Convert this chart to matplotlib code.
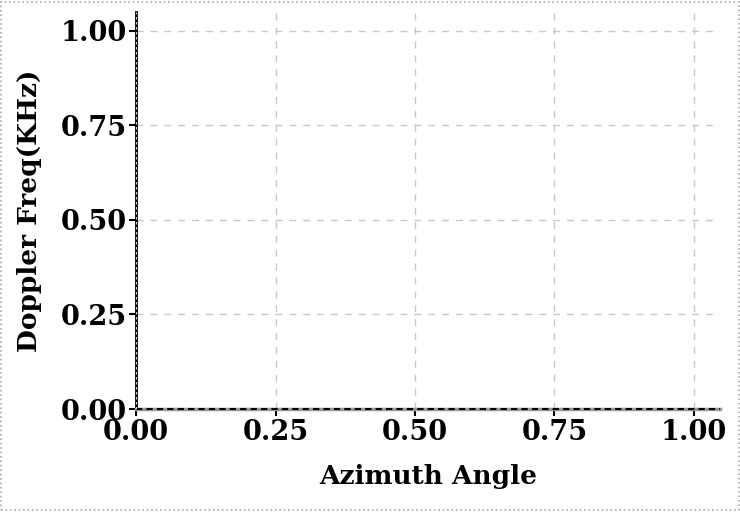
import matplotlib
matplotlib.use('Agg')
import matplotlib.pyplot as plt
from matplotlib.patches import Rectangle

# empty chart: no series, only axes setup
azimuth = []
doppler = []
xticks = [0.00, 0.25, 0.50, 0.75, 1.00]
yticks = [0.00, 0.25, 0.50, 0.75, 1.00]

plt.rcParams['font.family'] = ['DejaVu Serif']
plt.rcParams['font.weight'] = 'bold'

fig = plt.figure(figsize=(7.4, 5.12), dpi=100)
ax = fig.add_axes([0.184, 0.201, 0.789, 0.776])

ax.plot(azimuth, doppler)
ax.set_xlim(0, 1.047)
ax.set_ylim(0, 1.05)
ax.set_xticks(xticks)
ax.set_yticks(yticks)
ax.set_xticklabels(['%.2f' % v for v in xticks], fontsize=19.5, fontweight='bold')
ax.set_yticklabels(['%.2f' % v for v in yticks], fontsize=19.5, fontweight='bold')
ax.tick_params(length=5, width=1.5, pad=2)

ax.grid(True, linestyle=(0, (5, 5)), color='#c8c8c8', linewidth=1)

ax.spines['top'].set_visible(False)
ax.spines['right'].set_visible(False)
ax.spines['left'].set_color('black')
ax.spines['left'].set_linewidth(2)
ax.spines['bottom'].set_color('#999999')
ax.spines['bottom'].set_linewidth(2.5)
ax.axhline(0, color='black', linestyle=(0, (3, 2)), linewidth=1.5, clip_on=False, zorder=3)
ax.axvline(0, color='white', linestyle=(0, (3, 3)), linewidth=0.6, clip_on=False, zorder=3)

ax.set_xlabel('Azimuth Angle', fontsize=19, fontweight='bold', labelpad=13)
ax.set_ylabel('Doppler Freq(KHz)', fontsize=19, fontweight='bold', labelpad=13)

# dotted border round the figure
fig.patches.append(Rectangle((0.002, 0.003), 0.996, 0.994, transform=fig.transFigure,
                             fill=False, edgecolor='#aaaaaa', linestyle=':', linewidth=1.2))

plt.savefig('out.png', dpi=100)
